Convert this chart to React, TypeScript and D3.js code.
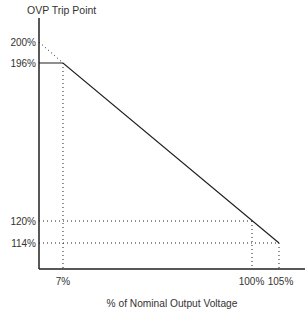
import React, { useEffect, useRef } from 'react';
import * as d3 from 'd3';

// the chart is schematic, so both axes use piecewise scales
const xStops = [0, 7, 100, 105, 115];
const yStops = [100, 114, 120, 196, 200, 210];

const xTicks = [7, 100, 105];
const xTickLabels = ['7%', '100%', '105%'];
const yTicks = [200, 196, 120, 114];
const yTickLabels = ['200%', '196%', '120%', '114%'];

// OVP trip point curve
const curveX = [0, 7, 105];
const curveY = [196, 196, 114];

// extrapolated (dotted) part
const extraX = [0, 7];
const extraY = [200, 196];

// guide lines: [x, y] pairs where dotted drops are drawn
const guideX = [7, 100, 105];
const guideY = [196, 120, 114];

const App = () => {
  const ref = useRef<SVGSVGElement>(null);

  useEffect(() => {
    document.body.style.margin = '0';
    const width = 305;
    const svg = d3.select(ref.current);
    svg.selectAll('*').remove();

    const x = d3.scaleLinear().domain(xStops).range([39, 63, 252, 279, 305]);
    const y = d3.scaleLinear().domain(yStops).range([269, 243, 221, 63, 42, 18]);

    const ink = '#231f20';
    const textInk = '#333';
    const font = 'Liberation Sans, Arial, sans-serif';

    // guide lines
    const g = svg.append('g').attr('stroke', ink).attr('stroke-width', 1)
      .attr('stroke-dasharray', '1,3').attr('fill', 'none');
    guideX.forEach((gx, i) => {
      const gy = guideY[i];
      g.append('line')
        .attr('x1', x(gx)).attr('x2', x(gx))
        .attr('y1', y(gy)).attr('y2', y(100));
      if (i > 0) {
        g.append('line')
          .attr('x1', x(0)).attr('x2', x(gx))
          .attr('y1', y(gy)).attr('y2', y(gy));
      }
    });

    const extra = extraX.map((d, i) => [x(d), y(extraY[i])] as [number, number]);
    svg.append('path')
      .attr('d', d3.line()(extra))
      .attr('fill', 'none').attr('stroke', ink).attr('stroke-width', 1)
      .attr('stroke-dasharray', '1,3');

    const pts = curveX.map((d, i) => [x(d), y(curveY[i])] as [number, number]);
    svg.append('path')
      .attr('d', d3.line()(pts))
      .attr('fill', 'none').attr('stroke', ink).attr('stroke-width', 1.2);

    // axes
    svg.append('line')
      .attr('x1', x(0)).attr('x2', x(0))
      .attr('y1', y(210)).attr('y2', y(100))
      .attr('stroke', ink).attr('stroke-width', 1.5);
    svg.append('line')
      .attr('x1', x(0)).attr('x2', width)
      .attr('y1', y(100)).attr('y2', y(100))
      .attr('stroke', ink).attr('stroke-width', 1.5);

    // tick labels
    svg.append('g').selectAll('text').data(yTicks).join('text')
      .attr('x', x(0) - 3).attr('y', (d) => y(d) + 3.5)
      .attr('text-anchor', 'end')
      .attr('font-family', font).attr('font-size', 10).attr('fill', textInk)
      .text((_, i) => yTickLabels[i]);

    svg.append('g').selectAll('text').data(xTicks).join('text')
      .attr('x', (d) => x(d) + (d === 105 ? 1.5 : d === 100 ? -0.5 : 0)).attr('y', 285)
      .attr('text-anchor', 'middle')
      .attr('font-family', font).attr('font-size', 10).attr('fill', textInk)
      .text((_, i) => xTickLabels[i]);

    // titles
    svg.append('text')
      .attr('x', 27).attr('y', 14)
      .attr('font-family', font).attr('font-size', 10.5).attr('fill', textInk)
      .text('OVP Trip Point');

    svg.append('text')
      .attr('x', (x(0) + width) / 2).attr('y', 307)
      .attr('text-anchor', 'middle')
      .attr('font-family', font).attr('font-size', 10.2).attr('fill', textInk)
      .text('% of Nominal Output Voltage');
  }, []);

  return (
    <svg ref={ref} width={305} height={313}
      style={{ display: 'block', position: 'absolute', left: 0, top: 0, background: '#fff' }} />
  );
};

export default App;
